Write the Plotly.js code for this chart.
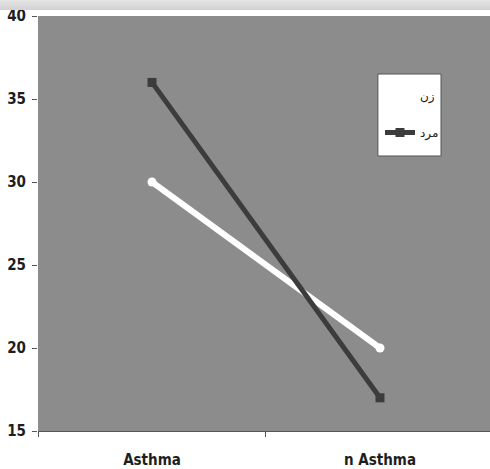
<!DOCTYPE html>
<html>
<head>
<meta charset="utf-8">
<script src="https://cdn.plot.ly/plotly-3.0.1.min.js"></script>
<style>
html,body{margin:0;padding:0;background:#fff;overflow:hidden;}
#strip{position:absolute;left:0;top:0;width:490px;height:10px;background:linear-gradient(#e4e4e4,#d2d2d2);z-index:5;}
#chart{width:490px;height:469px;}
</style>
</head>
<body>
<div id="strip"></div>
<div id="chart"></div>
<script>
var categories = ["Asthma", "n Asthma"];
var womenValues = [30, 20];   // زن
var menValues = [36, 17];     // مرد
var seriesNames = ["زن", "مرد"];
var yTicks = [15, 20, 25, 30, 35, 40];

var traces = [
  {
    x: categories, y: womenValues, name: seriesNames[0], type: "scatter", mode: "lines+markers",
    line: {color: "#ffffff", width: 6}, marker: {symbol: "circle", size: 9, color: "#ffffff"},
    legendgroup: "a"
  },
  {
    x: categories, y: menValues, name: seriesNames[1], type: "scatter", mode: "lines+markers",
    line: {color: "#3c3c3c", width: 5}, marker: {symbol: "square", size: 9, color: "#3c3c3c"},
    legendgroup: "b"
  }
];

var tickFont = {family: "'DejaVu Sans Condensed', 'DejaVu Sans', sans-serif", size: 15, color: "#1e1e1e", weight: "bold"};

var layout = {
  width: 490, height: 469,
  margin: {l: 38, r: 0, t: 16, b: 38},
  paper_bgcolor: "#ffffff",
  plot_bgcolor: "#8c8c8c",
  font: {family: "'DejaVu Sans', sans-serif", size: 13, color: "#222"},
  showlegend: true,
  shapes: [{
    type: "rect", xref: "paper", yref: "paper",
    x0: 0.752, x1: 0.8916, y0: 0.6627, y1: 0.8602,
    fillcolor: "#ffffff", line: {color: "#555555", width: 1}, layer: "above"
  }],
  legend: {
    x: 0.7566, y: 0.8434, xanchor: "left", yanchor: "top",
    bgcolor: "rgba(0,0,0,0)", borderwidth: 0,
    font: {family: "'DejaVu Sans', sans-serif", size: 12, color: "#222", weight: "normal"},
    tracegroupgap: 18, traceorder: "grouped", itemwidth: 30
  },
  xaxis: {
    type: "category", range: [-0.5, 1.4825], tickson: "boundaries",
    ticks: "outside", ticklen: 5, tickcolor: "#555", showgrid: false, zeroline: false,
    showline: true, linecolor: "#555", linewidth: 1,
    ticklabelstandoff: 15,
    tickfont: tickFont
  },
  yaxis: {
    range: [15, 40], tickvals: yTicks, ticktext: yTicks.map(String),
    ticks: "outside", ticklen: 5, tickcolor: "#555", showgrid: false, zeroline: false,
    showline: false, ticklabelstandoff: 3, tickfont: tickFont
  }
};

Plotly.newPlot("chart", traces, layout, {displayModeBar: false, staticPlot: true});
</script>
</body>
</html>
